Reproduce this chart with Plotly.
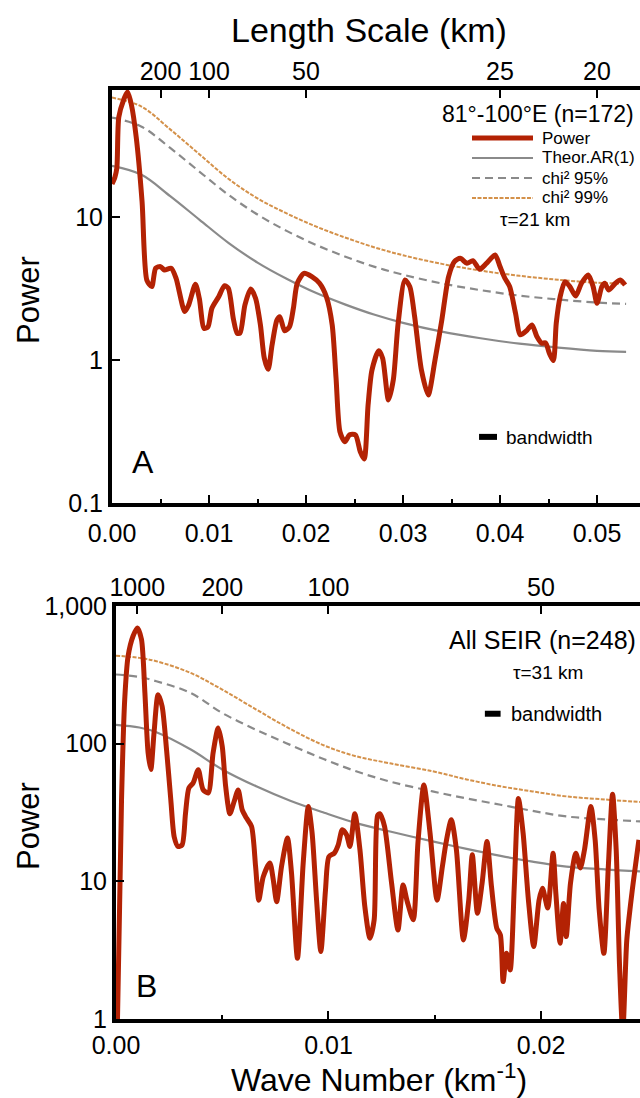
import plotly.graph_objects as go

# ---------------- Panel A data (81°-100°E, n=172) ----------------
a_wavenumber = [0.0000, 0.0003, 0.0005, 0.0007, 0.0012, 0.0016, 0.0020, 0.0025, 0.0031, 0.0036,
                0.0041, 0.0045, 0.0050, 0.0054, 0.0061, 0.0066, 0.0075, 0.0079, 0.0086, 0.0090,
                0.0095, 0.0099, 0.0103, 0.0110, 0.0116, 0.0120, 0.0125, 0.0129, 0.0132, 0.0137,
                0.0143, 0.0148, 0.0153, 0.0157, 0.0161, 0.0165, 0.0170, 0.0173, 0.0178, 0.0183,
                0.0187, 0.0191, 0.0198, 0.0206, 0.0214, 0.0221, 0.0227, 0.0231, 0.0235, 0.0240,
                0.0245, 0.0251, 0.0256, 0.0260, 0.0264, 0.0268, 0.0275, 0.0279, 0.0285, 0.0290,
                0.0295, 0.0302, 0.0307, 0.0312, 0.0319, 0.0326, 0.0333, 0.0340, 0.0347, 0.0353,
                0.0359, 0.0366, 0.0372, 0.0379, 0.0386, 0.0395, 0.0400, 0.0405, 0.0410, 0.0416,
                0.0421, 0.0428, 0.0433, 0.0438, 0.0443, 0.0447, 0.0451, 0.0455, 0.0458, 0.0462,
                0.0467, 0.0472, 0.0478, 0.0484, 0.0491, 0.0496, 0.0500, 0.0505, 0.0508, 0.0512,
                0.0519, 0.0524, 0.0529]
a_power = [17.0, 19.0, 22.0, 50.0, 66.0, 75.0, 61.0, 36.0, 12.8, 3.6,
           3.26, 4.38, 4.5, 4.26, 4.38, 3.74, 2.18, 2.42, 3.38, 2.7,
           1.66, 1.71, 2.3, 2.77, 3.31, 3.17, 1.96, 1.54, 1.54, 2.42,
           3.14, 2.7, 1.76, 1.03, 0.86, 1.27, 1.9, 2.01, 1.6, 1.71,
           2.3, 3.44, 4.04, 3.83, 3.44, 2.77, 1.76, 0.744, 0.315, 0.268,
           0.30, 0.299, 0.228, 0.203, 0.484, 0.85, 1.16, 1.03, 0.525, 0.725,
           1.81, 3.63, 3.26, 2.01, 0.85, 0.57, 1.0, 1.9, 3.83, 4.87,
           5.14, 4.74, 4.95, 4.31, 4.74, 5.42, 4.5, 3.73, 3.26, 2.12,
           1.5, 1.62, 1.76, 1.46, 1.31, 1.32, 1.11, 0.99, 1.81, 2.77,
           3.53, 3.26, 2.8, 3.44, 3.93, 3.26, 2.49, 3.26, 3.44, 3.09,
           3.44, 3.63, 3.35]

a_curve_k = [0.000, 0.003, 0.006, 0.009, 0.012, 0.015, 0.018, 0.021, 0.024,
             0.027, 0.030, 0.034, 0.038, 0.042, 0.046, 0.050, 0.053]
a_ar1 = [22.8, 19.8, 14.0, 9.6, 6.6, 4.8, 3.7, 2.95, 2.45,
         2.08, 1.82, 1.58, 1.42, 1.30, 1.22, 1.16, 1.14]
a_chi95 = [49.5, 43.0, 30.4, 20.8, 14.3, 10.4, 8.0, 6.4, 5.3,
           4.5, 3.95, 3.43, 3.08, 2.82, 2.65, 2.52, 2.47]
a_chi99 = [68.4, 59.4, 41.0, 27.5, 18.5, 13.5, 10.6, 8.6, 7.2,
           6.15, 5.4, 4.7, 4.22, 3.88, 3.64, 3.47, 3.42]

a_bandwidth_k = [0.03784, 0.03969]
a_bandwidth_y = [0.29, 0.29]

# ---------------- Panel B data (All SEIR, n=248) ----------------
b_wavenumber = [0.0, 0.00007, 0.00026, 0.00041, 0.00057, 0.0008, 0.00101, 0.0012, 0.00136, 0.00151,
                0.00164, 0.00179, 0.00198, 0.00217, 0.00238, 0.00258, 0.00274, 0.00292, 0.00311, 0.00327,
                0.00343, 0.00363, 0.00387, 0.0041, 0.00434, 0.00457, 0.00481, 0.005, 0.00516, 0.00536,
                0.00556, 0.00575, 0.00594, 0.00614, 0.00638, 0.00657, 0.00672, 0.00693, 0.00724, 0.0074,
                0.00756, 0.00779, 0.00807, 0.00826, 0.00854, 0.00881, 0.00905, 0.00923, 0.00944, 0.00964,
                0.00986, 0.01002, 0.01027, 0.01046, 0.01065, 0.01085, 0.01101, 0.01124, 0.01148, 0.01171,
                0.01195, 0.01215, 0.01231, 0.01242, 0.01264, 0.01297, 0.01327, 0.01351, 0.01371, 0.01399,
                0.01421, 0.01449, 0.01478, 0.01511, 0.01536, 0.01553, 0.01578, 0.01602, 0.01635, 0.0166,
                0.01677, 0.01701, 0.01723, 0.01746, 0.01767, 0.01792, 0.01809, 0.01822, 0.01838, 0.01855,
                0.01875, 0.01894, 0.01916, 0.01941, 0.01966, 0.01991, 0.02007, 0.02032, 0.02057, 0.0207,
                0.0209, 0.02106, 0.02119, 0.02139, 0.02164, 0.02185, 0.02205, 0.02235, 0.02255, 0.02274,
                0.02296, 0.02317, 0.02337, 0.02354, 0.0237, 0.02385, 0.02404, 0.02428, 0.02461]
b_power = [0.6, 1.0, 39, 209, 432, 603, 693, 570, 234, 86,
           65, 120, 227, 187, 90, 39, 21, 17.9, 18.4, 31,
           47.6, 51.8, 64.7, 46.3, 43.8, 85.6, 130, 95.6, 49, 31,
           38, 46, 33, 28.8, 25, 12.8, 7.3, 10.8, 13.6, 10.3,
           7.1, 12.8, 20.6, 11.5, 2.76, 13.6, 35, 22.4, 7.3, 3.09,
           8.7, 15.1, 16, 18.4, 23.7, 21.8, 17.9, 31, 17, 6.56,
           3.86, 5.25, 30, 31, 25, 9.7, 4.44, 9.4, 7.1, 5.25,
           19, 50, 22.4, 7.3, 12.8, 19, 28, 17, 3.75, 7.3,
           15.6, 5.87, 9.7, 19.5, 9.2, 4.57, 4.08, 1.87, 3.0, 2.27,
           9.7, 40, 22.4, 7.3, 3.36, 7.3, 8.9, 6.4, 16, 8.2,
           3.55, 6.9, 3.97, 9.7, 16, 12.5, 17, 35, 20, 6.2,
           3.0, 12.8, 43, 17, 2.4, 0.8, 3.75, 8.2, 20]

b_curve_k = [0.0, 0.0011, 0.0019, 0.0035, 0.0050, 0.0066, 0.0082, 0.0098,
             0.0113, 0.0129, 0.0149, 0.0165, 0.0181, 0.0196, 0.0212, 0.0230, 0.0247]
b_ar1 = [137, 131, 121, 91, 65, 49, 38.5, 31.5,
         26.5, 23.0, 19.5, 17.2, 15.3, 13.9, 12.8, 12.2, 11.8]
b_chi95 = [318, 305, 284, 234, 167, 126, 98, 77,
           63, 53, 45, 40, 36, 32.5, 29.6, 28.2, 27.2]
b_chi99 = [436, 420, 397, 327, 247, 177, 128, 97,
           81, 72, 63, 55, 49, 45, 41.4, 39.3, 37.7]

b_bandwidth_k = [0.01736, 0.0181]
b_bandwidth_y = [165, 165]

# top-axis length-scale labels
a_len_vals = [1 / 200, 1 / 100, 1 / 50, 1 / 25, 1 / 20]
a_len_text = ["200", "100", "50", "25", "20"]
b_len_vals = [1 / 1000, 1 / 200, 1 / 100, 1 / 50]
b_len_text = ["1000", "200", "100", "50"]

# ---------------- styling ----------------
W, H = 640, 1098
FONT = "Liberation Sans, Arial, Helvetica, sans-serif"
RED = "#B32204"
GRAY = "#8A8A8A"
ORANGE = "#D4914A"
DASH95 = "8px,5px"
DOT99 = "4px,1.5px"


def px(x):
    return x / W


def py(y):
    return 1 - y / H


fig = go.Figure()


def add_panel(xa, xa_top, ya, k_curve, ar1, c95, c99, k, p, bw_k, bw_y):
    fig.add_trace(go.Scatter(x=k_curve, y=c99, xaxis=xa, yaxis=ya, mode="lines",
                             line=dict(color=ORANGE, width=2, dash=DOT99, shape="spline"),
                             name="chi² 99%"))
    fig.add_trace(go.Scatter(x=k_curve, y=c95, xaxis=xa, yaxis=ya, mode="lines",
                             line=dict(color=GRAY, width=2.2, dash=DASH95, shape="spline"),
                             name="chi² 95%"))
    fig.add_trace(go.Scatter(x=k_curve, y=ar1, xaxis=xa, yaxis=ya, mode="lines",
                             line=dict(color=GRAY, width=2.2, shape="spline"),
                             name="Theor.AR(1)"))
    fig.add_trace(go.Scatter(x=k, y=p, xaxis=xa, yaxis=ya, mode="lines",
                             line=dict(color=RED, width=5, shape="spline", smoothing=0.7),
                             name="Power"))
    # bandwidth bar, referenced to the top (length-scale) axis so that axis is drawn
    fig.add_trace(go.Scatter(x=bw_k, y=bw_y, xaxis=xa_top, yaxis=ya, mode="lines",
                             line=dict(color="black", width=6), name="bandwidth",
                             hoverinfo="skip"))


add_panel("x", "x2", "y", a_curve_k, a_ar1, a_chi95, a_chi99, a_wavenumber, a_power,
          a_bandwidth_k, a_bandwidth_y)
add_panel("x3", "x4", "y3", b_curve_k, b_ar1, b_chi95, b_chi99, b_wavenumber, b_power,
          b_bandwidth_k, b_bandwidth_y)

tickfont = dict(family=FONT, size=25, color="black")
axis_common = dict(showline=True, linewidth=4, linecolor="black", showgrid=False,
                   zeroline=False, ticks="inside", ticklen=8, tickwidth=2,
                   tickcolor="black", tickfont=tickfont, automargin=False)

a_range = [0, (W - 112) / 9700]
b_range = [0, (W - 116.2) / 21240]

fig.update_layout(
    width=W, height=H, margin=dict(l=0, r=0, t=0, b=0, pad=0), autosize=False,
    paper_bgcolor="white", plot_bgcolor="white", showlegend=False,
    font=dict(family=FONT, color="black"),
    xaxis=dict(domain=[px(112), 1], anchor="y", range=a_range,
               tickvals=[0, 0.01, 0.02, 0.03, 0.04, 0.05],
               ticktext=["0.00", "0.01", "0.02", "0.03", "0.04", "0.05"],
               minor=dict(dtick=0.005, tick0=0, ticks="inside", ticklen=4, tickwidth=2,
                          tickcolor="black"),
               **axis_common),
    xaxis2=dict(overlaying="x", side="top", anchor="y", range=a_range,
                tickvals=a_len_vals, ticktext=a_len_text, **axis_common),
    yaxis=dict(domain=[py(503), py(90)], anchor="x", type="log",
               range=[-1, -1 + (503 - 90) / 143],
               tickvals=[0.1, 1, 10], ticktext=["0.1", "1", "10"], **axis_common),
    xaxis3=dict(domain=[px(116), 1], anchor="y3", range=b_range,
                tickvals=[0, 0.01, 0.02], ticktext=["0.00", "0.01", "0.02"],
                minor=dict(dtick=0.005, tick0=0, ticks="inside", ticklen=4, tickwidth=2,
                           tickcolor="black"),
                **axis_common),
    xaxis4=dict(overlaying="x3", side="top", anchor="y3", range=b_range,
                tickvals=b_len_vals, ticktext=b_len_text, **axis_common),
    yaxis3=dict(domain=[py(1019), py(606)], anchor="x3", type="log", range=[0, 3],
                tickvals=[1, 10, 100, 1000], ticktext=["1", "10", "100", "1,000"],
                **axis_common),
)

# fine-tune tick-label distances (bottom labels a bit lower, top labels a bit closer)
for name, shift in (("xaxis", 5), ("xaxis3", 1), ("xaxis2", -4), ("xaxis4", -4)):
    try:
        fig.layout[name].ticklabelstandoff = shift
    except (ValueError, AttributeError):
        pass


def text(t, x, y, size, anchor="center", angle=0):
    fig.add_annotation(text=t, x=px(x), y=py(y), xref="paper", yref="paper",
                       showarrow=False, xanchor=anchor, yanchor="middle",
                       textangle=angle, font=dict(family=FONT, size=size, color="black"))


text("Length Scale (km)", 369, 30, 34)
text("Power", 28, 300, 31, angle=-90)
text("Power", 28, 826, 31, angle=-90)
text("Wave Number (km<sup>-1</sup>)", 379, 1078, 32)
text("A", 143, 462, 32)
text("B", 146, 986, 32)

text("81°-100°E (n=172)", 636, 114, 23, anchor="right")
legend_items = [("Power", 138, dict(color=RED, width=5)),
                ("Theor.AR(1)", 158, dict(color=GRAY, width=2.2)),
                ("chi² 95%", 178, dict(color=GRAY, width=2.2, dash=DASH95)),
                ("chi² 99%", 198, dict(color=ORANGE, width=2, dash=DOT99))]
for label, yy, ln in legend_items:
    fig.add_shape(type="line", xref="paper", yref="paper", x0=px(472), x1=px(533),
                  y0=py(yy), y1=py(yy), line=ln)
    text(label, 540, yy, 17, anchor="left")
text("τ=21 km", 535, 220, 19)
text("bandwidth", 504, 437, 19, anchor="left")

text("All SEIR (n=248)", 638, 640, 25, anchor="right")
text("τ=31 km", 548, 672, 19)
text("bandwidth", 509, 714, 20, anchor="left")

fig.write_html(
    "out.html",
    config={"displayModeBar": False},
    post_script="document.body.style.margin='0';document.body.style.overflow='hidden';",
)
